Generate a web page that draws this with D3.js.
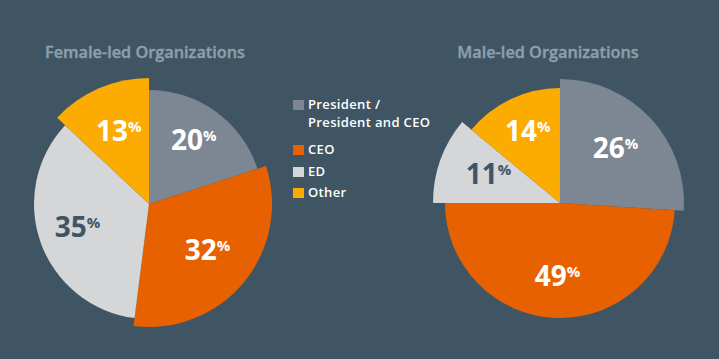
<!DOCTYPE html>
<html>
<head>
<meta charset="utf-8">
<script src="https://cdn.jsdelivr.net/npm/d3@7"></script>
<style>
  body { margin: 0; background: #3f5564; }
  svg { display: block; font-family: "Open Sans", sans-serif; }
</style>
</head>
<body>
<script>
// Data
const categories = ["President / President and CEO", "CEO", "ED", "Other"];
const legendLines = [["President /", "President and CEO"], ["CEO"], ["ED"], ["Other"]];
const femaleValues = [20, 32, 35, 13];
const maleValues = [26, 49, 11, 14];
const titles = ["Female-led Organizations", "Male-led Organizations"];

const width = 719, height = 359;
const colors = ["#7d8794", "#e86100", "#d5d6d8", "#fcab00"];
const labelColors = ["#ffffff", "#ffffff", "#3f5564", "#ffffff"];

const svg = d3.select("body")
  .append("svg")
  .attr("width", width)
  .attr("height", height);

svg.append("rect")
  .attr("width", width)
  .attr("height", height)
  .attr("fill", "#3f5564");

const color = d3.scaleOrdinal().domain(categories).range(colors);

const pie = d3.pie().sort(null).value(d => d.value);

// pie settings: centre, and per-slice radius (highlighted slices pop out)
const charts = [
  { values: femaleValues, title: titles[0], cx: 149, cy: 204, titleX: 145, radii: [114, 123, 115, 126] },
  { values: maleValues, title: titles[1], cx: 560, cy: 203, titleX: 548, radii: [124, 115, 127, 115] }
];

charts.forEach(function(c) {
  const g = svg.append("g")
    .attr("transform", "translate(" + c.cx + "," + c.cy + ")");

  const data = c.values.map((v, i) => ({ key: categories[i], value: v, i: i }));
  const arcs = pie(data);

  g.selectAll("path")
    .data(arcs)
    .enter()
    .append("path")
    .attr("d", d => d3.arc().innerRadius(0).outerRadius(c.radii[d.data.i])(d))
    .attr("fill", d => color(d.data.key));

  const labelArc = d3.arc().innerRadius(0).outerRadius(152);

  const labels = g.selectAll(".label")
    .data(arcs)
    .enter()
    .append("text")
    .attr("class", "label")
    .attr("transform", d => "translate(" + labelArc.centroid(d) + ")")
    .attr("text-anchor", "middle")
    .attr("dy", "0.45em")
    .attr("fill", d => labelColors[d.data.i])
    .style("font-weight", 700);

  labels.append("tspan")
    .style("font-size", "28px")
    .text(d => d.data.value);

  labels.append("tspan")
    .style("font-size", "15px")
    .attr("dy", "-0.6em")
    .text("%");

  svg.append("text")
    .attr("x", c.titleX)
    .attr("y", 58)
    .attr("text-anchor", "middle")
    .attr("fill", "#8d9eac")
    .attr("stroke", "#8d9eac")
    .attr("stroke-width", 0.4)
    .style("font-size", "16.3px")
    .style("font-weight", 600)
    .text(c.title);
});

// Legend
const legendY = [100, 145, 167, 188];
const legend = svg.append("g").attr("transform", "translate(293,0)");

categories.forEach(function(cat, i) {
  legend.append("rect")
    .attr("x", 0)
    .attr("y", legendY[i])
    .attr("width", 11)
    .attr("height", 10)
    .attr("fill", color(cat));

  // each line is its own text element
  legendLines[i].forEach(function(line, j) {
    legend.append("text")
      .attr("x", 15)
      .attr("y", legendY[i] + 8.5 + j * 18)
      .attr("fill", "#ffffff")
      .style("font-size", "13px")
      .style("letter-spacing", "0.35px")
      .style("font-weight", 600)
      .text(line);
  });
});
</script>
</body>
</html>
